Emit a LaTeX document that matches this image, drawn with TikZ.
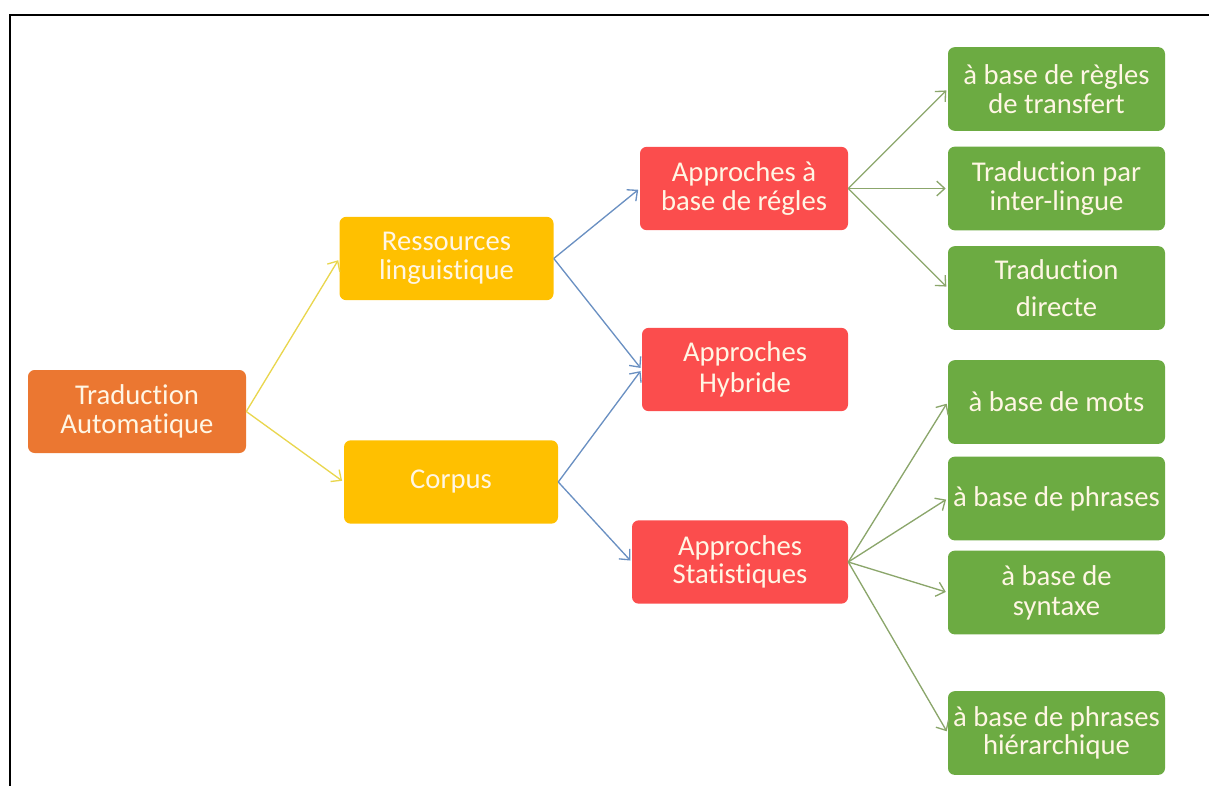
\documentclass[tikz,border=0pt]{standalone}
\usepackage{fontspec}
\setmainfont[Ligatures=NoCommon]{Carlito}
\usetikzlibrary{arrows.meta}
\definecolor{cOrange}{HTML}{EB7731}
\definecolor{cYellow}{HTML}{FFC000}
\definecolor{cRed}{HTML}{FB4D4D}
\definecolor{cGreen}{HTML}{6CAB42}
\definecolor{cText}{HTML}{FFF6E4}
\definecolor{lYellow}{HTML}{E9D64E}
\definecolor{lBlue}{HTML}{6A90C2}
\definecolor{lGreen}{HTML}{8BA66B}
\newcommand\boxfont[1]{\fontsize{21.5}{#1}\selectfont}
\begin{document}
\begin{tikzpicture}[x=0.75pt,y=-0.75pt,
  box/.style={rectangle,rounded corners=5pt,align=center,text=cText,
    inner sep=0pt,font=\boxfont{22}},
  orangebox/.style={box,fill=cOrange,minimum width=163.5pt,minimum height=62.25pt},
  yellowbox/.style={box,fill=cYellow,minimum width=160.5pt,minimum height=62.5pt},
  redbox/.style={box,fill=cRed,minimum width=156pt,minimum height=62.5pt},
  greenbox/.style={box,fill=cGreen,minimum width=162.75pt,minimum height=62.75pt},
  link/.style={line width=1pt,shorten >=1.5pt,
    -{Straight Barb[length=6pt,width=11pt,line width=1pt]}},
  ylink/.style={link,draw=lYellow},
  blink/.style={link,draw=lBlue},
  glink/.style={link,draw=lGreen}]
\useasboundingbox (0,0) rectangle (1209,785);
% frame (top and left edges)
\draw[line width=2.2pt,line cap=rect] (1209,15) -- (10,15) -- (10,785);

% boxes
\node[orangebox,font=\boxfont{21.5}] (ta) at (137,411.5) {Traduction\\Automatique};
\node[yellowbox,font=\boxfont{21.5}] (res) at (446.5,258.5) {Ressources\\linguistique};
\node[yellowbox,minimum width=160.5pt] (cor) at (451,482) {Corpus};
\node[redbox,font=\boxfont{21.5}] (reg) at (744,188.5) {Approches à\\base de régles};
\node[redbox,minimum width=154.5pt,font=\boxfont{23.5}] (hyb) at (745,369.5) {Approches\\Hybride};
\node[redbox,minimum width=162pt,font=\boxfont{21.5}] (sta) at (740,562) {Approches\\Statistiques};

\node[greenbox,font=\boxfont{21.5}] (g1) at (1056.5,89) {à base de règles\\de transfert};
\node[greenbox,font=\boxfont{21.5}] (g2) at (1056.5,188.5) {Traduction par\\inter-lingue};
\node[greenbox,font=\boxfont{28}] (g3) at (1056.5,288) {Traduction\\directe};
\node[greenbox] (g4) at (1056.5,402) {à base de mots};
\node[greenbox] (g5) at (1056.5,498.5) {à base de phrases};
\node[greenbox,font=\boxfont{22.5}] (g6) at (1056.5,592.5) {à base de\\syntaxe};
\node[greenbox,font=\boxfont{21.5}] (g7) at (1056.5,733) {à base de phrases\\hiérarchique};

% connectors
\draw[ylink] (ta.east) -- (res.west);
\draw[ylink] (ta.east) -- (cor.west);
\draw[blink] (res.east) -- (reg.west);
\draw[blink] (res.east) -- (hyb.west);
\draw[blink] (cor.east) -- (hyb.west);
\draw[blink] (cor.east) -- (sta.west);
\draw[glink] (reg.east) -- (g1.west);
\draw[glink] (reg.east) -- (g2.west);
\draw[glink] (reg.east) -- (g3.west);
\draw[glink] (sta.east) -- (g4.west);
\draw[glink] (sta.east) -- (g5.west);
\draw[glink] (sta.east) -- (g6.west);
\draw[glink] (sta.east) -- (g7.west);
\end{tikzpicture}
\end{document}
